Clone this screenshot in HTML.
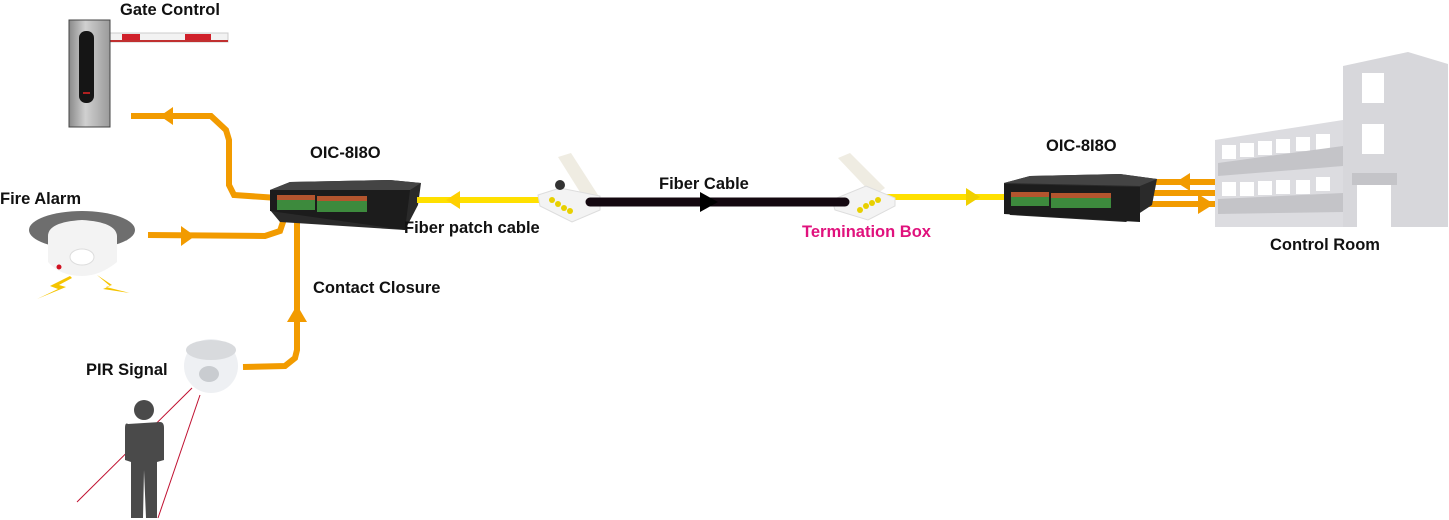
<!DOCTYPE html>
<html><head><meta charset="utf-8"><style>
html,body{margin:0;padding:0;background:#fff;width:1449px;height:520px;overflow:hidden}
text{font-family:"Liberation Sans",sans-serif;font-size:16.5px;fill:#111}
</style></head><body>
<svg width="1449" height="520" viewBox="0 0 1449 520" xmlns="http://www.w3.org/2000/svg">
<defs>
<linearGradient id="pole" x1="0" x2="1"><stop offset="0" stop-color="#8a8a8a"/><stop offset="0.4" stop-color="#d0d0d0"/><stop offset="1" stop-color="#9a9a9a"/></linearGradient>
</defs>
<!-- Gate -->
<rect x="108" y="33" width="120" height="9" fill="#f2f2f2" stroke="#ccc"/>
<rect x="122" y="34" width="18" height="6" fill="#d0202a"/>
<rect x="185" y="34" width="26" height="6" fill="#d0202a"/>
<rect x="108" y="40" width="120" height="2" fill="#c03030"/>
<rect x="69" y="20" width="41" height="107" fill="url(#pole)" stroke="#444"/>
<rect x="79" y="31" width="15" height="72" rx="7" fill="#151515"/>
<rect x="83" y="92" width="7" height="2" fill="#b02020"/>
<text x="120" y="15" font-weight="bold">Gate Control</text>
<!-- Fire alarm -->
<ellipse cx="82" cy="230" rx="53" ry="19" fill="#6e6e6e"/>
<path d="M48 236 Q48 222 82 220 Q116 222 117 236 L117 262 Q100 276 82 276 Q60 276 48 262 Z" fill="#f3f3f3"/>
<ellipse cx="82" cy="257" rx="12" ry="8" fill="#fff" stroke="#ddd"/>
<circle cx="59" cy="267" r="2.5" fill="#d01020"/>
<path d="M70 276 L50 286 L58 289 L37 299 L66 287 L59 285 L72 278 Z" fill="#f5c400"/>
<path d="M97 275 L112 285 L106 287 L130 293 L103 289 L110 286 Z" fill="#f5c400"/>
<text x="0" y="204" font-weight="bold">Fire Alarm</text>
<!-- PIR -->
<circle cx="211" cy="366" r="27" fill="#eef0f3"/>
<ellipse cx="211" cy="350" rx="25" ry="10" fill="#d8dadd"/>
<ellipse cx="209" cy="374" rx="10" ry="8" fill="#c9ccd0"/>
<text x="86" y="375" font-weight="bold">PIR Signal</text>
<line x1="192" y1="388" x2="77" y2="502" stroke="#c01030" stroke-width="1"/>
<line x1="200" y1="395" x2="158" y2="518" stroke="#c01030" stroke-width="1"/>
<circle cx="144" cy="410" r="10" fill="#4a4a4a"/>
<path d="M128 424 Q125 422 125 428 L125 460 L131 462 L131 518 L143 518 L144 470 L146 518 L157 518 L157 462 L164 460 L164 428 Q164 422 160 422 Z" fill="#4a4a4a"/>
<!-- Orange connectors -->
<g fill="none" stroke="#f29b00" stroke-width="6">
<path d="M131 116 L211 116 L226 130 L229 140 L229 185 L234 195 L278 198"/>
<path d="M148 235 L265 236 L280 231 L283 222 L283 210"/>
<path d="M243 367 L285 366 L295 358 L297 350 L297 214"/>
<path d="M1152 182 L1215 182"/>
<path d="M1138 193 L1215 193"/>
<path d="M1130 204 L1218 204"/>
</g>
<g fill="#f29b00">
<polygon points="160,116 173,107 173,125"/>
<polygon points="195,236 181,226 181,246"/>
<polygon points="297,305 287,322 307,322"/>
<polygon points="1176,182 1190,173 1190,191"/>
<polygon points="1214,204 1198,194 1198,214"/>
</g>
<!-- Left OIC -->
<polygon points="270,190 290,182 390,180 421,183 418,205 405,230 280,222 270,210" fill="#2a2a2a"/>
<polygon points="270,190 290,182 390,180 421,183 410,190" fill="#444"/>
<polygon points="270,190 410,190 405,230 270,211" fill="#1c1c1c"/>
<rect x="277" y="195" width="38" height="5" fill="#b3552e"/>
<rect x="317" y="196" width="50" height="5" fill="#b3552e"/>
<rect x="277" y="200" width="38" height="10" fill="#3d8a3d"/>
<rect x="317" y="201" width="50" height="11" fill="#3d8a3d"/>
<text x="310" y="158" font-weight="bold">OIC-8I8O</text>
<!-- Yellow patch -->
<g stroke="#ffe000" stroke-width="6" fill="none"><path d="M417 200 L555 200"/><path d="M878 197 L1010 197"/></g>
<polygon points="446,200 460,191 460,209" fill="#ffd000"/>
<polygon points="980,197 966,188 966,206" fill="#f0d000"/>
<text x="404" y="233" font-weight="bold">Fiber patch cable</text>
<!-- Term boxes -->
<g>
<polygon points="558,157 571,153 598,195 585,200" fill="#efece2"/>
<polygon points="538,195 560,188 600,196 600,210 572,222 540,206" fill="#f3f3f3" stroke="#ddd"/>
<circle cx="560" cy="185" r="5" fill="#333"/>
<g fill="#e8d000"><circle cx="552" cy="200" r="3"/><circle cx="558" cy="204" r="3"/><circle cx="564" cy="208" r="3"/><circle cx="570" cy="211" r="3"/></g>
<polygon points="838,158 850,153 885,188 874,196" fill="#efece2"/>
<polygon points="832,200 866,186 895,198 895,206 868,220 835,210" fill="#f3f3f3" stroke="#ddd"/>
<g fill="#e8d000"><circle cx="860" cy="210" r="3"/><circle cx="866" cy="206" r="3"/><circle cx="872" cy="203" r="3"/><circle cx="878" cy="200" r="3"/></g>
</g>
<path d="M590 202 L845 202" stroke="#140810" stroke-width="9" stroke-linecap="round"/>
<polygon points="718,202 700,192 700,212" fill="#000"/>
<text x="659" y="189" font-weight="bold">Fiber Cable</text>
<text x="802" y="237" font-weight="bold" style="fill:#e0127d">Termination Box</text>
<!-- Right OIC -->
<polygon points="1004,183 1030,176 1120,174 1157,179 1152,205 1126,222 1010,215 1004,205" fill="#2a2a2a"/>
<polygon points="1004,183 1030,176 1120,174 1157,179 1140,186" fill="#444"/>
<polygon points="1004,184 1140,187 1140,222 1004,214" fill="#1c1c1c"/>
<rect x="1011" y="192" width="38" height="5" fill="#b3552e"/>
<rect x="1051" y="193" width="60" height="5" fill="#b3552e"/>
<rect x="1011" y="197" width="38" height="9" fill="#3d8a3d"/>
<rect x="1051" y="198" width="60" height="10" fill="#3d8a3d"/>
<text x="1046" y="151" font-weight="bold">OIC-8I8O</text>
<!-- Building -->
<polygon points="1343,66 1408,52 1448,64 1448,227 1343,227" fill="#d7d7db"/>
<polygon points="1215,140 1343,120 1343,227 1215,227" fill="#dcdce0"/>
<g fill="#fff">
<rect x="1362" y="73" width="22" height="30"/><rect x="1362" y="124" width="22" height="30"/>
<rect x="1222" y="145" width="14" height="14"/><rect x="1240" y="143" width="14" height="14"/><rect x="1258" y="141" width="14" height="14"/><rect x="1276" y="139" width="14" height="14"/><rect x="1296" y="137" width="14" height="14"/><rect x="1316" y="134" width="14" height="16"/>
<rect x="1222" y="182" width="14" height="14"/><rect x="1240" y="182" width="14" height="14"/><rect x="1258" y="181" width="14" height="14"/><rect x="1276" y="180" width="14" height="14"/><rect x="1296" y="180" width="14" height="14"/><rect x="1316" y="177" width="14" height="14"/>
<rect x="1357" y="183" width="34" height="44"/>
</g>
<g fill="#c4c4c8">
<polygon points="1218,163 1343,146 1343,166 1218,176"/>
<polygon points="1218,199 1343,193 1343,212 1218,214"/>
<rect x="1352" y="173" width="45" height="12"/>
</g>
<text x="1270" y="250" font-weight="bold">Control Room</text>
<text x="313" y="293" font-weight="bold">Contact Closure</text>
</svg>
</body></html>
